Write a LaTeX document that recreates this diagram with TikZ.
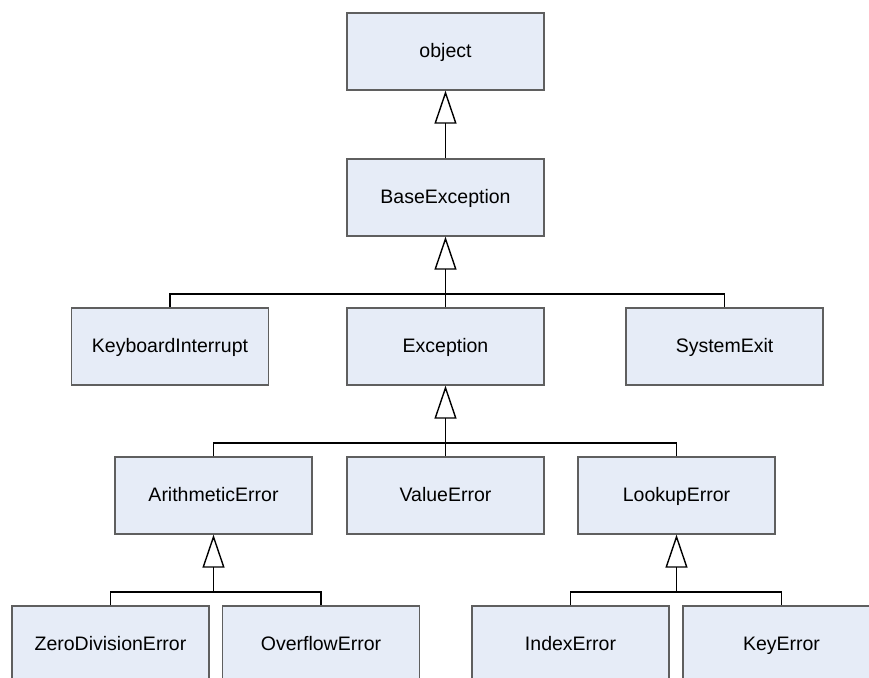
\documentclass[tikz,border=0pt]{standalone}
\usepackage{fontspec}
\setmainfont{Liberation Sans}
\usetikzlibrary{arrows.meta}
\definecolor{boxfill}{RGB}{230,236,247}
\definecolor{boxline}{RGB}{95,95,95}
\begin{document}
\begin{tikzpicture}[x=1pt,y=-1pt,
  cls/.style={draw=boxline, fill=boxfill, line width=1.3pt, minimum width=197pt, minimum height=77pt, inner sep=0pt, text height=15pt, text depth=4pt, font=\fontsize{19.5}{23}\selectfont},
  inh/.style={line width=1.4pt, -{Triangle[open, length=33pt, width=22pt, fill=white]}},
  conn/.style={line width=1.4pt}]
\useasboundingbox (0,0) rectangle (869,677);
\node[cls] (object) at (445.5,51.5) {object};
\node[cls] (base) at (445.5,197.5) {BaseException};
\node[cls] (kbd) at (170,346.5) {KeyboardInterrupt};
\node[cls] (exc) at (445.5,346.5) {Exception};
\node[cls] (sys) at (724.5,346.5) {SystemExit};
\node[cls] (arith) at (213.5,495.5) {ArithmeticError};
\node[cls] (value) at (445.5,495.5) {ValueError};
\node[cls] (lookup) at (676.5,495.5) {LookupError};
\node[cls] (zero) at (110.5,644.5) {ZeroDivisionError};
\node[cls] (over) at (321,644.5) {OverflowError};
\node[cls] (index) at (570.5,644.5) {IndexError};
\node[cls] (key) at (781.5,644.5) {KeyError};
\coordinate (b1) at (445.5,294);
\coordinate (b2) at (445.5,443);
\coordinate (b3) at (213.5,592);
\coordinate (b4) at (676.5,592);
\draw[inh] (base.north) -- (object.south);
\draw[conn] (kbd.north) |- (b1) -| (sys.north);
\draw[conn] (exc.north) -- (b1);
\draw[inh] (b1) -- (base.south);
\draw[conn] (arith.north) |- (b2) -| (lookup.north);
\draw[conn] (value.north) -- (b2);
\draw[inh] (b2) -- (exc.south);
\draw[conn] (zero.north) |- (b3) -| (over.north);
\draw[inh] (b3) -- (arith.south);
\draw[conn] (index.north) |- (b4) -| (key.north);
\draw[inh] (b4) -- (lookup.south);
\end{tikzpicture}
\end{document}
